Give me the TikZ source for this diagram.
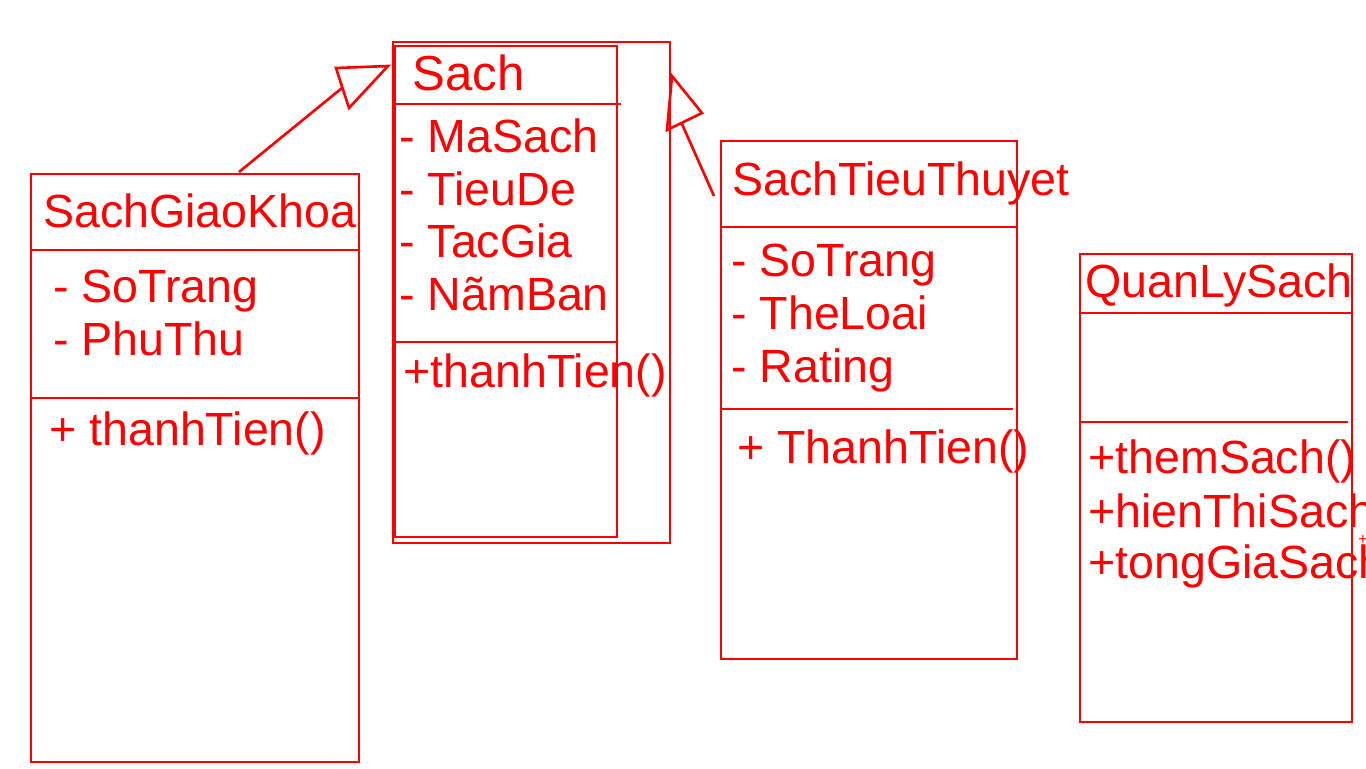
\documentclass[tikz,border=0pt]{standalone}
\usepackage{fontspec}
\setmainfont{Liberation Sans}
\tikzset{
  umltxt/.style={text=red, anchor=base west, inner sep=0pt, font=\fontsize{26.5}{30}\selectfont},
  umltitle/.style={umltxt, font=\fontsize{28}{32}\selectfont},
}
\begin{document}
\begin{tikzpicture}[x=0.02cm, y=-0.02cm, line width=1.5pt, draw=red]
            \useasboundingbox (0, 0) rectangle (1366, 768);
            \clip (0, 0) rectangle (1366, 768);
            % Sach
            \draw (393, 42) rectangle (670, 543);
            \draw (395, 46) rectangle (617, 537);
            \draw (393, 104) -- (621, 104);
            \draw (393, 342) -- (617, 342);
            \node[umltitle] (sach) at (411, 90) {Sach};
            \node[umltxt] (maSach) at (398, 152) {- MaSach};
            \node[umltxt] (tieuDe) at (398, 205) {- TieuDe};
            \node[umltxt] (tacGia) at (398, 257) {- TacGia};
            \node[umltxt] (namBan) at (398, 310) {- NãmBan};
            \node[umltxt] (sachTien) at (402, 387) {+thanhTien()};
            % SachGiaoKhoa
            \draw (31, 174) rectangle (359, 762);
            \draw (31, 250) -- (359, 250);
            \draw (31, 398) -- (359, 398);
            \node[umltxt] (gk) at (42, 227) {SachGiaoKhoa};
            \node[umltxt] (gkTrang) at (52, 302) {- SoTrang};
            \node[umltxt] (gkPhu) at (52, 355) {- PhuThu};
            \node[umltxt] (gkTien) at (48, 445) {+ thanhTien()};
            % SachTieuThuyet
            \draw (721, 141) rectangle (1017, 659);
            \draw (721, 227) -- (1017, 227);
            \draw (721, 409) -- (1013, 409);
            \node[umltxt] (stt) at (731, 195) {SachTieuThuyet};
            \node[umltxt] (sttTrang) at (730, 276) {- SoTrang};
            \node[umltxt] (sttLoai) at (730, 329) {- TheLoai};
            \node[umltxt] (sttRating) at (730, 382) {- Rating};
            \node[umltxt] (sttTien) at (736, 463) {+ ThanhTien()};
            % QuanLySach
            \draw (1080, 254) rectangle (1352, 722);
            \draw (1080, 313) -- (1352, 313);
            \draw (1080, 422) -- (1348, 422);
            \node[umltxt] (qls) at (1084, 297) {QuanLySach};
            \node[umltxt] (qlsThem) at (1087, 473) {+themSach()};
            \node[umltxt] (qlsHien) at (1087, 527) {+hienThiSach()};
            \node[umltxt] (qlsTong) at (1087, 578) {+tongGiaSach()};
            \node[text=red, inner sep=0pt, font=\fontsize{9}{10}\selectfont] (qlsMore) at (1363, 540) {+};
            % generalisations
            \coordinate (gkFoot) at (239, 172);
            \coordinate (gkBase) at (342, 88);
            \draw (gkFoot) -- (gkBase);
            \draw (336, 68) -- (388, 66) -- (349, 108) -- cycle;
            \coordinate (sttFoot) at (714, 196);
            \coordinate (sttBase) at (682, 124);
            \draw (sttFoot) -- (sttBase);
            \draw (672, 76) -- (702, 113) -- (667, 130) -- cycle;
\end{tikzpicture}
\end{document}
